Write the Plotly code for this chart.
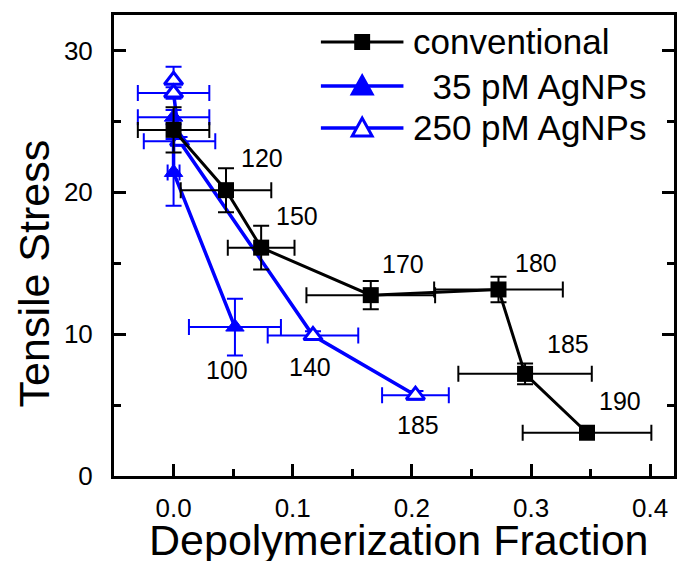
import plotly.graph_objects as go

# conventional
conv_x = [0.0, 0.044, 0.0735, 0.1655, 0.2727, 0.295, 0.347]
conv_y = [24.4, 20.15, 16.1, 12.75, 13.15, 7.2, 3.05]
conv_xerr = [0.030, 0.038, 0.028, 0.054, 0.054, 0.056, 0.054]
conv_yerr = [1.6, 1.55, 1.55, 1.0, 0.9, 0.73, 0.0]
conv_labels = ["", "120", "150", "170", "180", "185", "190"]

# 35 pM AgNPs
np35_x = [0.0, 0.0, 0.0515]
np35_y = [25.3, 21.4, 10.5]
np35_xerr = [0.030, 0.005, 0.0386]
np35_yerr = [0.5, 2.35, 2.0]
np35_labels = ["", "", "100"]

# 250 pM AgNPs
np250_x = [0.0, 0.0, 0.005, 0.117, 0.203]
np250_y = [27.9, 27.0, 23.6, 9.9, 5.7]
np250_xerr = [0.0, 0.030, 0.030, 0.038, 0.028]
np250_yerr = [0.95, 0.4, 0.3, 0.3, 0.3]
np250_labels = ["", "", "", "140", "185"]

series_names = ["conventional", "35 pM AgNPs", "250 pM AgNPs"]

x_ticks = [0.0, 0.1, 0.2, 0.3, 0.4]
y_ticks = [0, 10, 20, 30]

BLACK = "#000000"
BLUE = "#0000ff"
FONT = "Arial, Liberation Sans, sans-serif"

W, H = 677, 561
M_L, M_R, M_T, M_B = 114, 0, 15, 85
PW, PH = W - M_L - M_R, H - M_T - M_B

# pixel offsets of the temperature labels from their points
conv_label_shift = [(0, 0), (36, 32), (36, 32), (32, 31), (38, 26), (43, 30), (33, 32)]
np35_label_shift = [(0, 0), (0, 0), (-8, -43)]
np250_label_shift = [(0, 0), (0, 0), (0, 0), (-3, -31), (3, -30)]


def fx(px):
    """page pixel column -> paper x"""
    return (px - M_L) / PW


def fy(py):
    """page pixel row -> paper y"""
    return (H - M_B - py) / PH


def err(vals, color):
    return dict(type="data", array=vals, visible=True, color=color,
                thickness=2, width=8)


fig = go.Figure()

fig.add_trace(go.Scatter(
    x=np250_x, y=np250_y, name=series_names[2], mode="lines+markers",
    line=dict(color=BLUE, width=3.5),
    marker=dict(symbol="triangle-up", size=16, color="white",
                line=dict(color=BLUE, width=3)),
    error_x=err(np250_xerr, BLUE), error_y=err(np250_yerr, BLUE),
    showlegend=False,
))
fig.add_trace(go.Scatter(
    x=np35_x, y=np35_y, name=series_names[1], mode="lines+markers",
    line=dict(color=BLUE, width=3.5),
    marker=dict(symbol="triangle-up", size=16, color=BLUE,
                line=dict(color=BLUE, width=1)),
    error_x=err(np35_xerr, BLUE), error_y=err(np35_yerr, BLUE),
    showlegend=False,
))
fig.add_trace(go.Scatter(
    x=conv_x, y=conv_y, name=series_names[0], mode="lines+markers",
    line=dict(color=BLACK, width=3),
    marker=dict(symbol="square", size=16, color=BLACK),
    error_x=err(conv_xerr, BLACK), error_y=err(conv_yerr, BLACK),
    showlegend=False,
))

annotations = []
for xs, ys, labels, shifts in [
    (conv_x, conv_y, conv_labels, conv_label_shift),
    (np35_x, np35_y, np35_labels, np35_label_shift),
    (np250_x, np250_y, np250_labels, np250_label_shift),
]:
    for xv, yv, lab, (dx, dy) in zip(xs, ys, labels, shifts):
        if lab:
            annotations.append(dict(
                x=xv, y=yv, text=lab, showarrow=False,
                xshift=dx, yshift=dy,
                font=dict(family=FONT, size=25, color=BLACK),
            ))

# axis titles
annotations.append(dict(
    text="Depolymerization Fraction", xref="paper", yref="paper",
    x=fx(400), y=fy(514), xanchor="center", yanchor="top",
    showarrow=False, font=dict(family=FONT, size=43, color=BLACK),
))
annotations.append(dict(
    text="Tensile Stress", xref="paper", yref="paper",
    x=fx(34), y=fy(273), xanchor="center", yanchor="middle",
    textangle=-90, showarrow=False,
    font=dict(family=FONT, size=43, color=BLACK),
))

# legend: key line, key marker and text for each series
shapes = []
leg_rows = [42, 86, 128]
leg_x0, leg_x1, leg_text_x = 322, 405, 413
leg_cx = (leg_x0 + leg_x1) / 2
leg_style = [
    dict(color=BLACK, width=3, marker="square", fill=BLACK),
    dict(color=BLUE, width=3.5, marker="triangle", fill=BLUE),
    dict(color=BLUE, width=3.5, marker="triangle", fill="white"),
]
leg_text = [series_names[0], "\u00a0\u00a0" + series_names[1], series_names[2]]
for row, st, txt in zip(leg_rows, leg_style, leg_text):
    shapes.append(dict(type="line", xref="paper", yref="paper",
                       x0=fx(leg_x0), x1=fx(leg_x1), y0=fy(row), y1=fy(row),
                       line=dict(color=st["color"], width=st["width"])))
    if st["marker"] == "square":
        shapes.append(dict(type="rect", xref="paper", yref="paper",
                           x0=fx(leg_cx - 8), x1=fx(leg_cx + 8),
                           y0=fy(row + 8), y1=fy(row - 8),
                           fillcolor=st["fill"], line=dict(width=0)))
    else:
        path = "M{:.5f},{:.5f} L{:.5f},{:.5f} L{:.5f},{:.5f} Z".format(
            fx(leg_cx - 10), fy(row + 8), fx(leg_cx + 10), fy(row + 8),
            fx(leg_cx), fy(row - 10))
        shapes.append(dict(type="path", xref="paper", yref="paper", path=path,
                           fillcolor=st["fill"],
                           line=dict(color=st["color"], width=3)))
    annotations.append(dict(
        text=txt, xref="paper", yref="paper", x=fx(leg_text_x), y=fy(row),
        xanchor="left", yanchor="middle", showarrow=False,
        font=dict(family=FONT, size=35, color=BLACK),
    ))

fig.update_layout(
    width=W, height=H,
    margin=dict(l=M_L, r=M_R, t=M_T, b=M_B),
    paper_bgcolor="white", plot_bgcolor="white",
    font=dict(family=FONT, color=BLACK),
    showlegend=False,
    annotations=annotations,
    shapes=shapes,
    xaxis=dict(
        range=[-0.05, 0.42], tickvals=x_ticks, tickformat=".1f",
        showline=True, linecolor=BLACK, linewidth=3, mirror=True,
        ticks="inside", ticklen=12, tickwidth=2.5, tickcolor=BLACK,
        minor=dict(dtick=0.05, tick0=0, ticks="inside", ticklen=7,
                   tickwidth=2.5, tickcolor=BLACK),
        showgrid=False, zeroline=False,
        tickfont=dict(family=FONT, size=26, color=BLACK),
        ticklabelstandoff=7,
    ),
    yaxis=dict(
        range=[0, 32.5], tickvals=y_ticks,
        showline=True, linecolor=BLACK, linewidth=3, mirror="ticks",
        ticks="inside", ticklen=12, tickwidth=2.5, tickcolor=BLACK,
        minor=dict(dtick=5, tick0=0, ticks="inside", ticklen=7,
                   tickwidth=2.5, tickcolor=BLACK),
        showgrid=False, zeroline=False,
        tickfont=dict(family=FONT, size=26, color=BLACK),
        ticklabelstandoff=13,
    ),
)

fig.write_html("out.html")
